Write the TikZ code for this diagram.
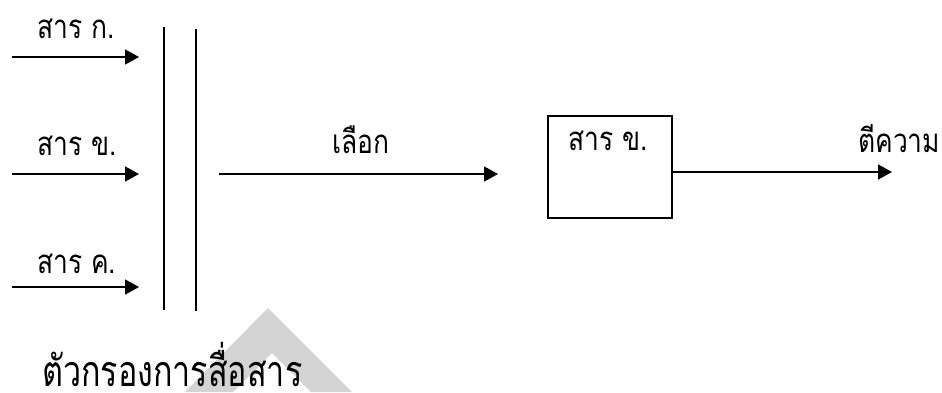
\documentclass[tikz,border=0pt]{standalone}
\usepackage{fontspec}
\newfontfamily\thaifont[Script=Thai,FakeStretch=0.8]{Loma}
\newfontfamily\thaicaption[Script=Thai,FakeStretch=0.75]{Loma}
\usetikzlibrary{arrows.meta}
\tikzset{
  lbl/.style={font=\thaifont\fontsize{33}{38}\selectfont, inner sep=0pt, anchor=base west},
  caption/.style={font=\thaicaption\fontsize{43}{48}\selectfont, inner sep=0pt, anchor=base west},
  flow/.style={line width=1.6pt, -{Triangle[length=14pt,width=15pt]}},
  wall/.style={line width=1.6pt}
}
\begin{document}
\begin{tikzpicture}[x=1pt,y=-1pt]
\useasboundingbox (0,0) rectangle (942,392);
% pale chevron in the lower left
\fill[black!17] (185,392) -- (268,308) -- (352,392) -- (311,392) -- (272,353) -- (233,392) -- cycle;

% incoming messages
\node[lbl] (ka) at (37,38) {สาร ก.};
\node[lbl] (kho) at (37,155) {สาร ข.};
\node[lbl] (kho2) at (37,273) {สาร ค.};
\coordinate (s1) at (12,57);  \coordinate (e1) at (139,57);
\coordinate (s2) at (12,174); \coordinate (e2) at (139,174);
\coordinate (s3) at (12,287); \coordinate (e3) at (139,287);
\draw[flow] (s1) -- (e1);
\draw[flow] (s2) -- (e2);
\draw[flow] (s3) -- (e3);

% the filter
\coordinate (fa1) at (164,27); \coordinate (fa2) at (164,310);
\coordinate (fb1) at (196,29); \coordinate (fb2) at (196,311);
\draw[wall] (fa1) -- (fa2);
\draw[wall] (fb1) -- (fb2);
\node[caption] (filt) at (42,386) {ตัวกรองการสื่อสาร};

% selection
\node[lbl] (sel) at (332,153) {เลือก};
\coordinate (s4) at (219,174); \coordinate (e4) at (498,174);
\draw[flow] (s4) -- (e4);

% selected message
\node[draw, line width=1.6pt, minimum width=124pt, minimum height=102pt, inner sep=0pt] (box) at (610,167) {};
\node[lbl] (boxlbl) at (568,150) {สาร ข.};

% interpretation
\node[lbl] (interp) at (858,152) {ตีความ};
\coordinate (s5) at (672,172); \coordinate (e5) at (892,172);
\draw[flow] (s5) -- (e5);
\end{tikzpicture}
\end{document}
